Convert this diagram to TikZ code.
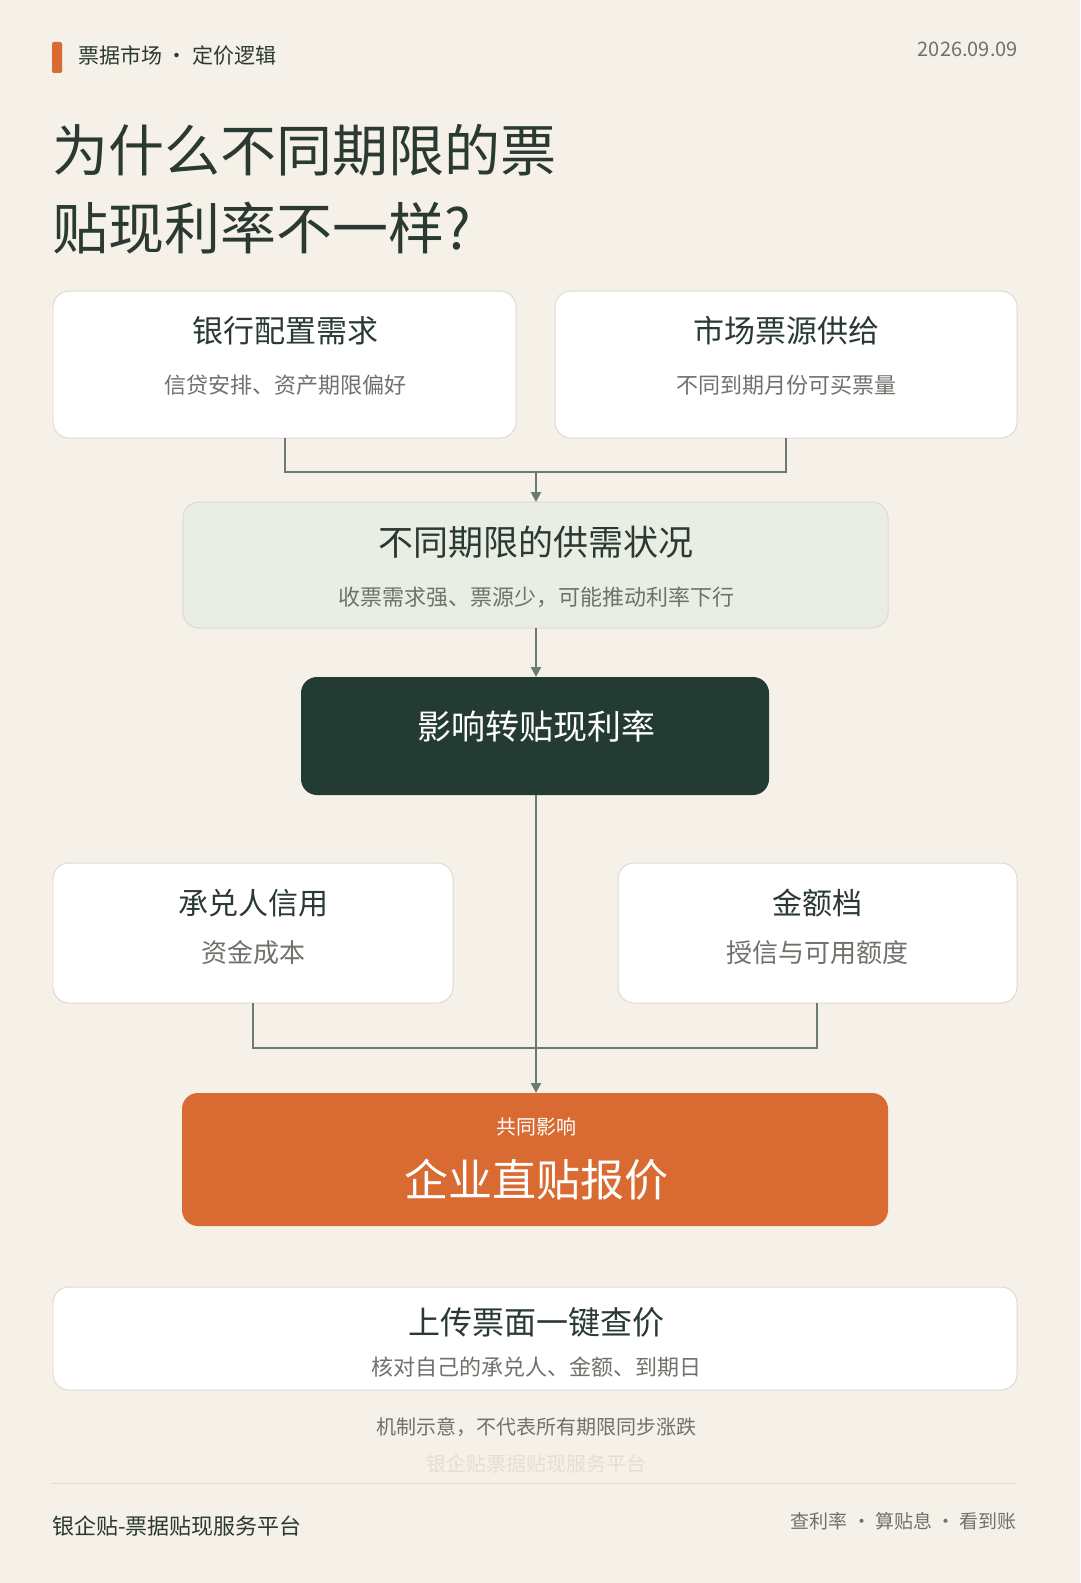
\documentclass[tikz,border=0pt]{standalone}
\usepackage{fontspec}
\setmainfont{Noto Sans CJK SC}
\usetikzlibrary{arrows.meta}
\definecolor{bg}{HTML}{F5F1E8}
\definecolor{dk}{HTML}{243B33}
\definecolor{org}{HTML}{D96A32}
\definecolor{lg}{HTML}{E9EDE3}
\definecolor{tx}{HTML}{2A3A33}
\definecolor{gr}{HTML}{6E726B}
\definecolor{ln}{HTML}{6B7A72}
\definecolor{bd}{HTML}{DEDAD0}
\newcommand{\fs}[1]{\fontsize{#1bp}{#1bp}\selectfont}
\begin{document}
\begin{tikzpicture}[x=1bp,y=1bp,
  box/.style={draw=bd,line width=1pt,rounded corners=16bp},
  ttl/.style={text=tx,anchor=center,inner sep=0},
  sub/.style={text=gr,anchor=center,inner sep=0},
  con/.style={draw=ln,line width=2.2pt},
  arr/.style={con,-{Triangle[length=10pt,width=10pt]}}]
\useasboundingbox[fill=bg] (0,0) rectangle (1080,-1583);
\fill[org,rounded corners=2pt] (52,-42) rectangle (62,-73);
\node[anchor=west,text=tx,inner sep=0] (hd) at (78,-56) {\fs{21}票据市场 · 定价逻辑};
\node[anchor=east,text=gr,inner sep=0] (dt) at (1018,-49) {\fs{20}2026.09.09};
\node[anchor=west,text=tx,inner sep=0] (t1) at (52,-150) {\fs{56}为什么不同期限的票};
\node[anchor=west,text=tx,inner sep=0] (t2) at (52,-228) {\fs{56}贴现利率不一样?};
% boxes
\draw[box,fill=white] (53,-291) rectangle (516,-438);
\coordinate (b1) at (285,-438);
\node[ttl] (b1t) at (285,-331) {\fs{31}银行配置需求};
\node[sub] (b1s) at (285,-385) {\fs{22}信贷安排、资产期限偏好};
\draw[box,fill=white] (555,-291) rectangle (1017,-438);
\coordinate (b2) at (786,-438);
\node[ttl] (b2t) at (786,-331) {\fs{31}市场票源供给};
\node[sub] (b2s) at (786,-385) {\fs{22}不同到期月份可买票量};
\draw[box,fill=lg] (183,-502) rectangle (888,-628);
\coordinate (b3top) at (536,-502);
\coordinate (b3bot) at (536,-628);
\node[ttl] (b3t) at (536,-542) {\fs{35}不同期限的供需状况};
\node[sub] (b3s) at (536,-597) {\fs{22}收票需求强、票源少，可能推动利率下行};
\fill[dk,rounded corners=16bp] (301,-677) rectangle (769,-795);
\coordinate (b4top) at (536,-677);
\coordinate (b4bot) at (536,-795);
\node[text=white,inner sep=0] (b4t) at (536,-727) {\fs{34}影响转贴现利率};
\draw[box,fill=white] (53,-863) rectangle (453,-1003);
\coordinate (b5) at (253,-1003);
\node[ttl] (b5t) at (253,-903) {\fs{30}承兑人信用};
\node[sub] (b5s) at (253,-953) {\fs{26}资金成本};
\draw[box,fill=white] (618,-863) rectangle (1017,-1003);
\coordinate (b6) at (817,-1003);
\node[ttl] (b6t) at (817,-903) {\fs{30}金额档};
\node[sub] (b6s) at (817,-953) {\fs{26}授信与可用额度};
\fill[org,rounded corners=16bp] (182,-1093) rectangle (888,-1226);
\coordinate (b7top) at (536,-1093);
\node[text=white,inner sep=0] (b7a) at (536,-1127) {\fs{20}共同影响};
\node[text=white,inner sep=0] (b7b) at (536,-1180) {\fs{44}企业直贴报价};
\draw[box,fill=white] (53,-1287) rectangle (1017,-1390);
\node[ttl] (b8t) at (536,-1322) {\fs{32}上传票面一键查价};
\node[sub] (b8s) at (536,-1367) {\fs{22}核对自己的承兑人、金额、到期日};
% connectors
\draw[con] (b1) |- (786,-472) -- (b2);
\draw[arr] (536,-472) -- (b3top);
\draw[arr] (b3bot) -- (b4top);
\draw[con] (b5) |- (817,-1048) -- (b6);
\draw[arr] (b4bot) -- (b7top);
% footer
\node[sub] (n1) at (536,-1427) {\fs{20}机制示意，不代表所有期限同步涨跌};
\node[text=bd!80!bg,inner sep=0] (wm) at (536,-1464) {\fs{20}银企贴票据贴现服务平台};
\draw[bd,line width=1pt] (52,-1483) -- (1017,-1483);
\node[anchor=west,text=tx,inner sep=0] (fl) at (52,-1526) {\fs{22}银企贴-票据贴现服务平台};
\node[anchor=east,text=gr,inner sep=0] (fr) at (1017,-1521) {\fs{19}查利率 · 算贴息 · 看到账};
\end{tikzpicture}
\end{document}
